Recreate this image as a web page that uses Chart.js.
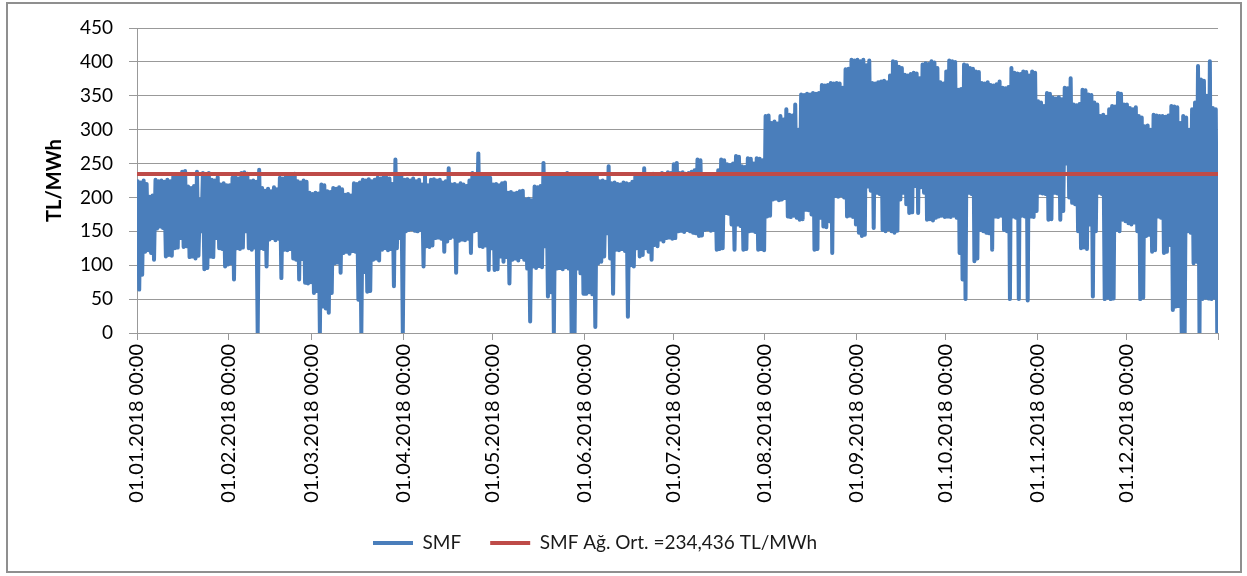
<!DOCTYPE html>
<html>
<head>
<meta charset="utf-8">
<script src="https://cdn.jsdelivr.net/npm/chart.js@4.4.1/dist/chart.umd.min.js"></script>
<style>
html,body{margin:0;padding:0;background:#fff;}
#wrap{position:relative;width:1247px;height:576px;overflow:hidden;}
#c{position:absolute;left:0;top:0;}
#frame{position:absolute;left:6px;top:2px;width:1236px;height:571px;border:2px solid #8f8f8f;box-sizing:border-box;pointer-events:none;}
</style>
</head>
<body>
<div id="wrap"><canvas id="c" width="1247" height="576"></canvas><div id="frame"></div></div>
<script>
// ---- tick labels / categories ----
const xTickLabels = ['01.01.2018 00:00','01.02.2018 00:00','01.03.2018 00:00','01.04.2018 00:00','01.05.2018 00:00','01.06.2018 00:00','01.07.2018 00:00','01.08.2018 00:00','01.09.2018 00:00','01.10.2018 00:00','01.11.2018 00:00','01.12.2018 00:00',''];
const monthStartDays = [0,31,59,90,120,151,181,212,243,273,304,334,365];
const yTicks = [0,50,100,150,200,250,300,350,400,450];

// ---- SMF daily maximum / minimum (TL/MWh) ----
const janMax = [224,222,225,220,201,203,226,224,225,223,226,224,231,230,232,238,239,216,214,217,238,197,236,234,236,226,225,230,219,221,218];
const janMin = [64,86,120,122,118,108,154,157,155,113,115,114,125,126,140,127,128,112,113,110,114,150,94,96,113,112,140,125,124,98,101];
const febMax = [218,229,230,228,236,237,235,224,225,223,241,214,210,213,209,215,212,229,228,230,234,233,235,224,222,225,223,207];
const febMin = [103,79,125,124,126,150,125,123,126,0,125,124,98,138,140,137,139,81,123,122,124,110,108,79,109,74,73,75];
const marMax = [205,207,206,219,218,209,208,214,213,215,212,204,205,203,221,220,222,226,225,227,224,226,229,228,230,229,228,220,256,234,233];
const marMin = [59,62,0,39,36,30,59,103,104,89,118,120,117,121,120,49,0,90,61,62,108,110,107,123,125,122,124,69,125,140,0];
const aprMax = [226,227,225,228,224,226,219,231,218,226,227,225,226,222,224,243,219,220,218,221,219,217,225,236,234,265,231,230,232,229];
const aprMin = [150,152,153,151,150,152,98,128,127,129,140,141,139,120,135,140,142,89,136,138,137,139,118,150,152,128,127,129,93,125];
const mayMax = [219,220,218,221,222,207,208,206,207,209,210,197,198,196,216,215,217,251,231,230,232,229,231,230,232,236,231,230,232,229,231];
const mayMin = [93,94,113,105,112,73,108,110,107,112,108,95,17,98,96,99,97,128,54,60,0,95,96,94,97,95,0,0,95,88,58];
const junMax = [232,230,231,229,233,224,225,223,246,221,222,220,219,222,221,220,223,231,230,232,243,234,233,235,232,234,236,233,237,236];
const junMin = [58,60,57,9,103,105,113,147,110,58,123,122,124,121,24,100,98,125,113,115,125,120,108,130,128,138,135,140,141,139];
const julMax = [249,251,236,237,235,236,238,240,256,255,231,232,230,233,231,240,256,255,249,248,250,261,260,246,245,258,257,250,258,257,255];
const julMin = [140,150,151,149,152,150,148,147,143,144,152,153,151,152,123,124,125,177,176,160,123,160,158,123,124,150,151,149,123,124,122];
const augMax = [320,321,310,312,309,320,315,330,322,321,337,300,352,351,353,352,354,353,354,366,365,366,369,368,369,368,362,389,390,403,402];
const augMin = [172,173,197,198,196,197,199,172,171,173,170,167,168,182,181,175,123,124,170,157,156,165,118,202,201,203,200,172,173,171,160];
const sepMax = [403,401,403,395,402,369,368,370,371,372,370,380,401,400,393,391,381,380,382,384,383,376,396,398,397,401,399,391,370,368];
const sepMin = [148,143,145,216,210,155,207,205,152,150,153,150,148,151,197,207,190,177,178,217,177,215,207,167,168,166,170,172,173,171];
const octMax = [386,402,401,400,359,360,396,395,391,390,386,385,369,368,370,366,365,367,371,362,361,363,391,384,383,382,386,385,380,386,384];
const octMin = [172,171,173,170,118,79,50,207,205,106,110,152,150,148,147,123,172,171,173,152,150,50,172,170,50,173,172,48,172,171,180];
const novMax = [342,340,335,354,353,347,346,348,345,362,361,376,337,336,338,359,358,352,351,340,337,320,322,319,330,335,334,354,353,337];
const novMin = [207,206,205,167,168,207,206,167,180,250,200,192,190,150,125,126,124,160,54,150,207,205,50,52,50,51,152,150,167,165];
const decMax = [337,332,330,333,320,318,305,306,300,322,321,320,320,319,321,335,334,333,310,320,318,300,330,340,394,374,372,350,401,332,330];
const decMin = [162,160,163,150,50,52,143,145,120,122,172,170,118,120,130,34,39,40,0,0,150,148,103,105,0,50,52,51,50,52,0];

// weighted average SMF
const smfAverage = 234.436;
const seriesNames = ['SMF', 'SMF Ağ. Ort. =234,436 TL/MWh'];

// ---- build datasets from the arrays ----
const dailyMax = [].concat(janMax, febMax, marMax, aprMax, mayMax, junMax, julMax, augMax, sepMax, octMax, novMax, decMax);
const dailyMin = [].concat(janMin, febMin, marMin, aprMin, mayMin, junMin, julMin, augMin, sepMin, octMin, novMin, decMin);
const smfPoints = [];
dailyMax.forEach((hi, d) => {
  smfPoints.push({x: d + 0.25, y: hi});
  smfPoints.push({x: d + 0.75, y: dailyMin[d]});
});
const lastDay = monthStartDays[monthStartDays.length - 1];
const avgPoints = [{x: 0, y: smfAverage}, {x: lastDay, y: smfAverage}];

const FONT = 'Lato';
const LEGEND_X = 373, LEGEND_CY = 543, LEGEND_PAD = 29, LEGEND_FS = 19;
const AREA_BOTTOM = 333, LAYOUT_BOTTOM = 0;

const legendPlacer = {
  id: 'legendPlacer',
  afterLayout(chart) {
    const lg = chart.legend;
    if (!lg) return;
    lg.left = LEGEND_X - LEGEND_PAD;
    lg.top = LEGEND_CY - LEGEND_PAD - LEGEND_FS / 2;
  }
};

new Chart(document.getElementById('c'), {
  type: 'line',
  data: {
    datasets: [
      {
        label: seriesNames[0],
        data: smfPoints,
        borderColor: '#4a7ebb',
        backgroundColor: '#4a7ebb',
        borderWidth: 4,
        pointRadius: 0,
        tension: 0,
        borderJoinStyle: 'round',
        borderCapStyle: 'round',
        fill: false,
        order: 1
      },
      {
        label: seriesNames[1],
        data: avgPoints,
        borderColor: '#be4b48',
        backgroundColor: '#be4b48',
        borderWidth: 4,
        pointRadius: 0,
        borderCapStyle: 'round',
        fill: false,
        order: 0
      }
    ]
  },
  options: {
    responsive: false,
    animation: false,
    devicePixelRatio: 1,
    layout: { padding: { left: 0, right: 29, top: 28, bottom: LAYOUT_BOTTOM } },
    plugins: {
      tooltip: { enabled: false },
      legend: {
        position: 'bottom',
        align: 'start',
        labels: {
          font: { family: FONT, size: LEGEND_FS },
          color: '#1a1a1a',
          usePointStyle: true,
          pointStyle: 'line',
          pointStyleWidth: 40,
          padding: LEGEND_PAD,
          sort: (a, b) => a.datasetIndex - b.datasetIndex
        }
      }
    },
    scales: {
      x: {
        type: 'linear',
        min: 0,
        max: lastDay,
        afterBuildTicks: (scale) => { scale.ticks = monthStartDays.map(v => ({value: v})); },
        afterFit: (scale) => {
          const lh = scale.chart.legend ? scale.chart.legend.height : 60;
          scale.height = 576 - LAYOUT_BOTTOM - lh - AREA_BOTTOM;
        },
        ticks: {
          autoSkip: false,
          minRotation: 90,
          maxRotation: 90,
          padding: 4,
          color: '#000',
          font: { family: FONT, size: 20 },
          callback: (value) => {
            const i = monthStartDays.indexOf(value);
            return i >= 0 ? xTickLabels[i] : '';
          }
        },
        grid: { drawOnChartArea: false, drawTicks: true, tickLength: 7, color: '#999999', lineWidth: 1 },
        border: { display: true, color: '#999999', width: 1 }
      },
      y: {
        min: 0,
        max: 450,
        afterBuildTicks: (scale) => { scale.ticks = yTicks.map(v => ({value: v})); },
        afterFit: (scale) => { scale.width = 137; },
        ticks: {
          padding: 16,
          color: '#000',
          font: { family: FONT, size: 19 }
        },
        title: {
          display: true,
          text: 'TL/MWh',
          color: '#000',
          font: { family: FONT, size: 20, weight: 'bold' },
          padding: { top: 43, bottom: 0 }
        },
        grid: { color: '#999999', lineWidth: 1, tickLength: 8, drawTicks: true },
        border: { display: true, color: '#999999', width: 1 }
      }
    }
  },
  plugins: [legendPlacer]
});
</script>
</body>
</html>
